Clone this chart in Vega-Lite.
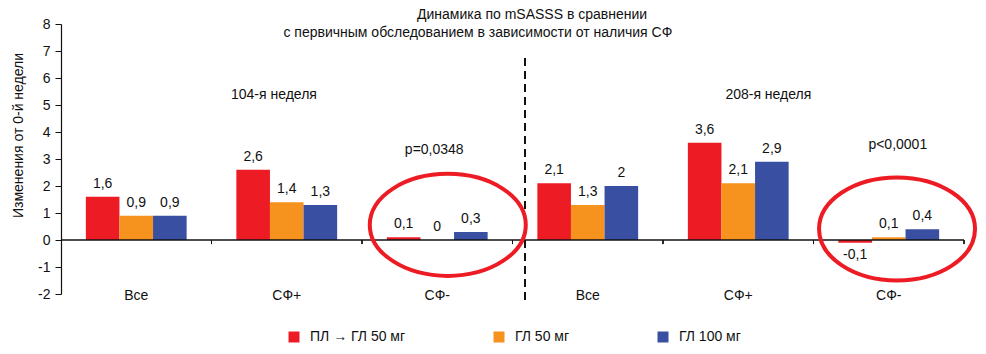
{
  "$schema": "https://vega.github.io/schema/vega-lite/v6.json",
  "width": 903,
  "height": 270,
  "autosize": "none",
  "padding": {"left": 61, "top": 24, "right": 22, "bottom": 60},
  "config": {
    "font": "Liberation Sans",
    "view": {"stroke": null},
    "locale": {"number": {"decimal": ",", "thousands": " ", "grouping": [3], "currency": ["", ""], "minus": "-"}}
  },
  "data": {
    "values": [
      {"g": "104|Все", "s": "ПЛ → ГЛ 50 мг", "v": 1.6},
      {"g": "104|Все", "s": "ГЛ 50 мг", "v": 0.9},
      {"g": "104|Все", "s": "ГЛ 100 мг", "v": 0.9},
      {"g": "104|СФ+", "s": "ПЛ → ГЛ 50 мг", "v": 2.6},
      {"g": "104|СФ+", "s": "ГЛ 50 мг", "v": 1.4},
      {"g": "104|СФ+", "s": "ГЛ 100 мг", "v": 1.3},
      {"g": "104|СФ-", "s": "ПЛ → ГЛ 50 мг", "v": 0.1},
      {"g": "104|СФ-", "s": "ГЛ 50 мг", "v": 0},
      {"g": "104|СФ-", "s": "ГЛ 100 мг", "v": 0.3},
      {"g": "208|Все", "s": "ПЛ → ГЛ 50 мг", "v": 2.1},
      {"g": "208|Все", "s": "ГЛ 50 мг", "v": 1.3},
      {"g": "208|Все", "s": "ГЛ 100 мг", "v": 2},
      {"g": "208|СФ+", "s": "ПЛ → ГЛ 50 мг", "v": 3.6},
      {"g": "208|СФ+", "s": "ГЛ 50 мг", "v": 2.1},
      {"g": "208|СФ+", "s": "ГЛ 100 мг", "v": 2.9},
      {"g": "208|СФ-", "s": "ПЛ → ГЛ 50 мг", "v": -0.1},
      {"g": "208|СФ-", "s": "ГЛ 50 мг", "v": 0.1},
      {"g": "208|СФ-", "s": "ГЛ 100 мг", "v": 0.4}
    ]
  },
  "encoding": {
    "x": {
      "field": "g", "type": "nominal",
      "scale": {"domain": ["104|Все", "104|СФ+", "104|СФ-", "208|Все", "208|СФ+", "208|СФ-"], "paddingInner": 0, "paddingOuter": 0},
      "axis": {"title": null, "domain": false, "ticks": false, "labelAngle": 0, "labelPadding": -6, "labelFontSize": 14, "labelColor": "#111", "labelExpr": "split(datum.label, '|')[1]"}
    },
    "y": {
      "field": "v", "type": "quantitative",
      "scale": {"domain": [-2, 8], "nice": false, "zero": false},
      "axis": {"title": "Изменения от 0-й недели", "titleFontSize": 14, "titleFontWeight": "normal", "titleColor": "#111", "titleX": -43, "titleY": 111, "titleBaseline": "middle", "grid": false, "values": [-2, -1, 0, 1, 2, 3, 4, 5, 6, 7, 8], "labelFontSize": 14, "labelColor": "#111", "domainColor": "#111", "tickColor": "#111", "tickSize": 6, "labelPadding": 5, "domainWidth": 1.2}
    }
  },
  "layer": [
    {
      "mark": {"type": "bar"},
      "encoding": {
        "xOffset": {"field": "s", "type": "nominal", "scale": {"domain": ["ПЛ → ГЛ 50 мг", "ГЛ 50 мг", "ГЛ 100 мг"], "paddingInner": 0, "paddingOuter": 0.74}},
        "color": {
          "field": "s", "type": "nominal",
          "scale": {"domain": ["ПЛ → ГЛ 50 мг", "ГЛ 50 мг", "ГЛ 100 мг"], "range": ["#ED1C24", "#F6921E", "#394FA1"]},
          "legend": {"title": null, "orient": "none", "direction": "horizontal", "legendX": 226, "legendY": 306, "symbolType": "square", "symbolSize": 121, "symbolStrokeWidth": 0, "labelFontSize": 14, "labelColor": "#111", "labelOffset": 9, "columnPadding": 86, "labelLimit": 300}
        }
      }
    },
    {
      "transform": [{"filter": "datum.v >= 0"}],
      "mark": {"type": "text", "baseline": "bottom", "dy": -6, "fontSize": 14, "color": "#111"},
      "encoding": {
        "xOffset": {"field": "s", "type": "nominal"},
        "text": {"field": "v", "type": "quantitative", "format": ".1~f"}
      }
    },
    {
      "transform": [{"filter": "datum.v < 0"}],
      "mark": {"type": "text", "baseline": "top", "dy": 5, "fontSize": 14, "color": "#111"},
      "encoding": {
        "xOffset": {"field": "s", "type": "nominal"},
        "text": {"field": "v", "type": "quantitative", "format": ".1~f"}
      }
    },
    {
      "mark": {"type": "rule", "color": "#111", "strokeWidth": 1},
      "encoding": {"x": {"field": "g", "type": "nominal", "bandPosition": 1}, "y": {"datum": 0}, "y2": {"datum": -0.15}}
    },
    {
      "transform": [{"filter": "datum.s == 'ГЛ 50 мг' && datum.g == '104|Все'"}],
      "layer": [
        {
          "mark": {"type": "rule", "color": "#111", "strokeWidth": 1.3},
          "encoding": {"x": {"datum": "104|Все", "type": "nominal", "bandPosition": 0}, "x2": {"datum": "208|СФ-", "bandPosition": 1}, "y": {"datum": 0}}
        },
        {
          "mark": {"type": "rule", "color": "#111", "strokeWidth": 2, "strokeDash": [8, 5]},
          "encoding": {"x": {"datum": "208|Все", "type": "nominal", "bandPosition": 0.083}, "y": {"datum": 6.74}, "y2": {"datum": -2.22}}
        },
        {
          "mark": {"type": "point", "shape": "M-1,0A1,0.654 0 1,1 1,0A1,0.654 0 1,1 -1,0Z", "size": 24336, "filled": false, "stroke": "#ED1C24", "strokeWidth": 4, "opacity": 1},
          "encoding": {"x": {"datum": "104|СФ-", "type": "nominal", "bandPosition": 0.57}, "y": {"datum": 0.56}}
        },
        {
          "mark": {"type": "point", "shape": "M-1,0A1,0.66 0 1,1 1,0A1,0.66 0 1,1 -1,0Z", "size": 24336, "filled": false, "stroke": "#ED1C24", "strokeWidth": 4, "opacity": 1},
          "encoding": {"x": {"datum": "208|СФ-", "type": "nominal", "bandPosition": 0.555}, "y": {"datum": 0.41}}
        },
        {
          "mark": {"type": "text", "text": "104-я неделя", "fontSize": 14, "color": "#111", "baseline": "middle"},
          "encoding": {"x": {"datum": "104|СФ+", "type": "nominal", "bandPosition": 0.415}, "y": {"datum": 5.37}}
        },
        {
          "mark": {"type": "text", "text": "208-я неделя", "fontSize": 14, "color": "#111", "baseline": "middle"},
          "encoding": {"x": {"datum": "208|СФ+", "type": "nominal", "bandPosition": 0.7}, "y": {"datum": 5.37}}
        },
        {
          "mark": {"type": "text", "text": "p=0,0348", "fontSize": 14, "color": "#111", "baseline": "middle"},
          "encoding": {"x": {"datum": "104|СФ-", "type": "nominal", "bandPosition": 0.48}, "y": {"datum": 3.33}}
        },
        {
          "mark": {"type": "text", "text": "p<0,0001", "fontSize": 14, "color": "#111", "baseline": "middle"},
          "encoding": {"x": {"datum": "208|СФ-", "type": "nominal", "bandPosition": 0.56}, "y": {"datum": 3.52}}
        },
        {
          "mark": {"type": "text", "text": "Динамика по mSASSS в сравнении", "fontSize": 14, "color": "#111", "baseline": "middle"},
          "encoding": {"x": {"datum": "208|Все", "type": "nominal", "bandPosition": 0.13}, "y": {"datum": 8.33}}
        },
        {
          "mark": {"type": "text", "text": "с первичным обследованием в зависимости от наличия СФ", "fontSize": 14, "color": "#111", "baseline": "middle"},
          "encoding": {"x": {"datum": "104|СФ-", "type": "nominal", "bandPosition": 0.77}, "y": {"datum": 7.67}}
        }
      ]
    }
  ]
}
